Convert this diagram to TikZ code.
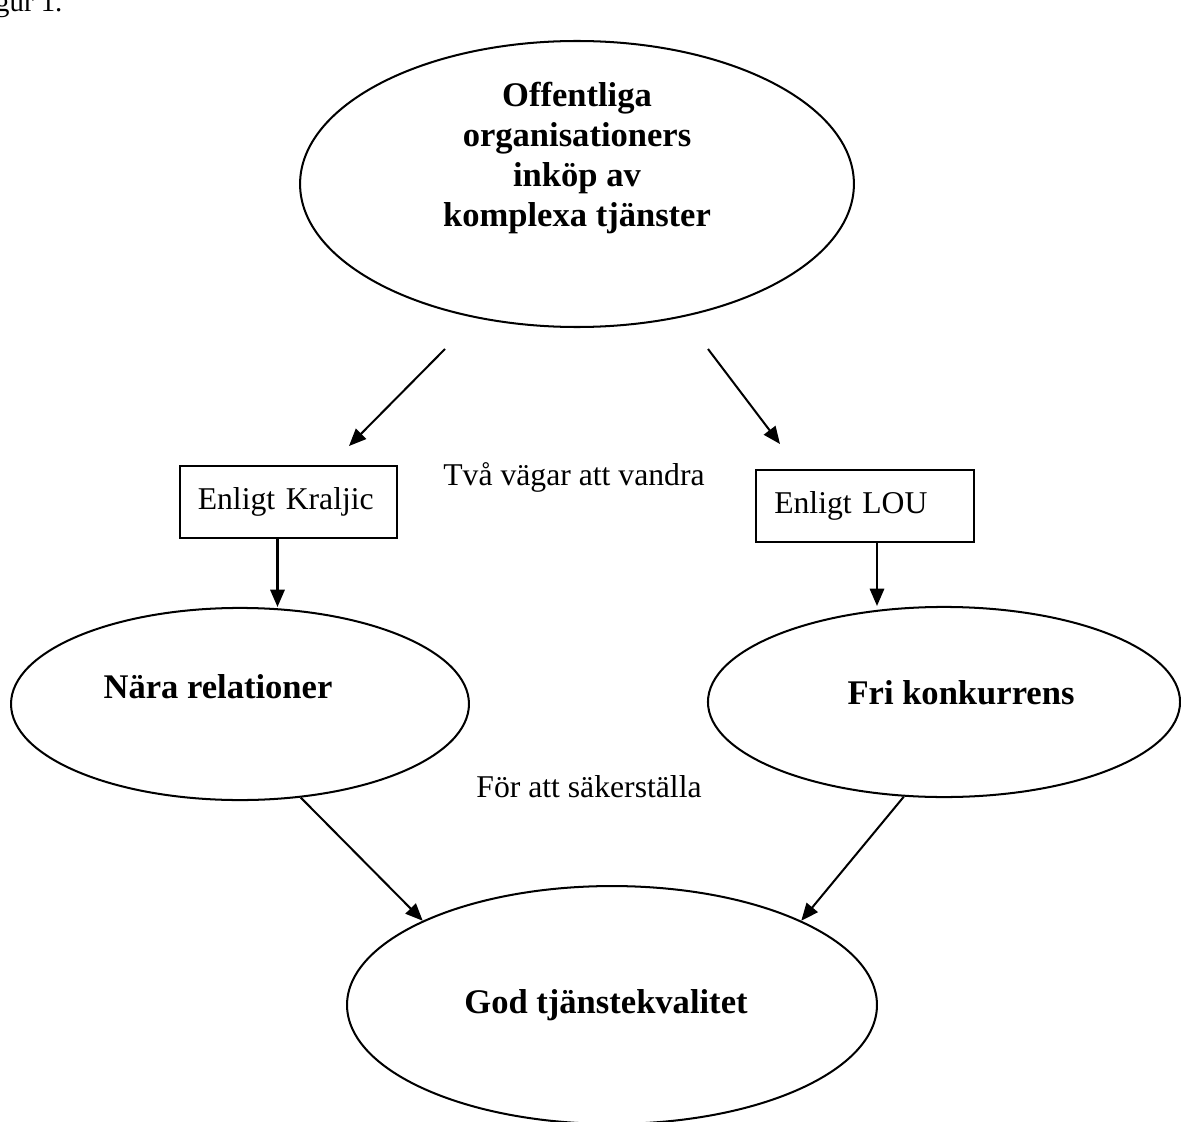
\documentclass[tikz,border=0pt]{standalone}
\usepackage{fontspec}
\setmainfont{Liberation Serif}
\usetikzlibrary{arrows.meta, positioning, shapes.geometric, calc}

\tikzset{
   oval/.style={draw, ellipse, line width=0.7pt, inner sep=0pt},
   boxnode/.style={draw, rectangle, line width=0.7pt, inner xsep=6.2pt, inner ysep=0pt,
      text width=63pt, align=left, minimum height=25pt, font=\fontsize{11}{13}\selectfont},
   boldtext/.style={font=\fontsize{12}{13.9}\selectfont\bfseries, align=center, inner sep=0pt},
   plaintext/.style={font=\fontsize{11}{13}\selectfont, inner sep=0pt},
   arr/.style={-{Triangle[length=6pt, width=5pt]}, line width=0.7pt}
}

\begin{document}
\begin{tikzpicture}[x=0.3472pt, y=-0.3472pt]
            \useasboundingbox (0,0) rectangle (1181,1122);
            % Caption, cut at the left edge
            \node[plaintext, font=\fontsize{10}{12}\selectfont, anchor=base east] (caption) at (63,12) {gur 1.};
            % Top
            \node[oval, minimum width=192.3pt, minimum height=99.3pt] (inkop) at (577,184) {};
            \node[boldtext] (inkopText) at (577,158) {Offentliga\\organisationers\\inköp av\\komplexa tjänster};
            % Two ways
            \coordinate (leftStart) at (445,349);
            \coordinate (leftEnd) at (349,446);
            \coordinate (rightStart) at (708,349);
            \coordinate (rightEnd) at (780,444);
            \draw[arr] (leftStart) -- (leftEnd);
            \draw[arr] (rightStart) -- (rightEnd);
            \node[boxnode] (kraljic) at (288.5,502) {Enligt Kraljic};
            \node[boxnode] (lou) at (865,506) {Enligt LOU};
            \node[plaintext] (vagar) at (574,477) {Två vägar att vandra};
            % Middle ellipses
            \node[oval, minimum width=159pt, minimum height=66.7pt] (nara) at (240,704) {};
            \node[boldtext] (naraText) at (218,687) {Nära relationer};
            \node[oval, minimum width=163.9pt, minimum height=66pt] (fri) at (944,702) {};
            \node[boldtext] (friText) at (961,693) {Fri konkurrens};
            \coordinate (kArrow) at ($(kraljic.south)+(-11,0)$);
            \coordinate (lArrow) at ($(lou.south)+(12,0)$);
            \draw[arr] (kArrow) -- (kArrow |- nara.north);
            \draw[arr] (lArrow) -- (lArrow |- fri.north);
            \node[plaintext] (sakra) at (589,787) {För att säkerställa};
            % Bottom
            \node[oval, minimum width=184pt, minimum height=82.6pt] (god) at (612,1005) {};
            \node[boldtext] (godText) at (606,1005) {God tjänstekvalitet};
            \draw[arr] (nara.303) -- (god.156);
            \draw[arr] (fri.247) -- (god.24);
         \end{tikzpicture}
\end{document}
